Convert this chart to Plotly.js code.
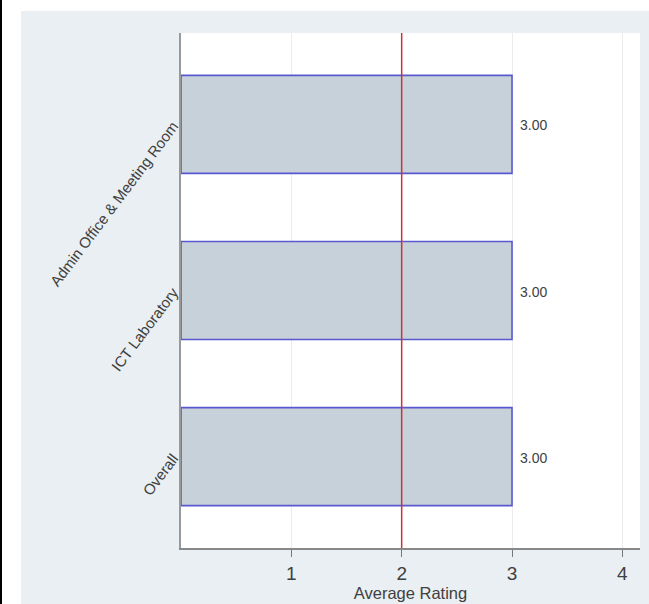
<!DOCTYPE html>
<html>
<head>
<meta charset="utf-8">
<script src="https://cdn.plot.ly/plotly-3.0.1.min.js"></script>
<style>
html,body{margin:0;padding:0;background:#ffffff;}
body{width:649px;height:604px;position:relative;overflow:hidden;}
#edge{position:absolute;left:0;top:0;width:2px;height:604px;background:#000;}
#chart{position:absolute;left:21px;top:11px;width:628px;height:593px;}
</style>
</head>
<body>
<div id="edge"></div>
<div id="chart"></div>
<script>
const categories = ["Overall", "ICT Laboratory", "Admin Office & Meeting Room"];
const ratings = [3.00, 3.00, 3.00];
const valueLabels = ["3.00", "3.00", "3.00"];
const referenceValue = 2;
const xTicks = [1, 2, 3, 4];

const sans = 'Liberation Sans, Arial, sans-serif';

const trace = {
  type: 'bar',
  orientation: 'h',
  y: categories,
  x: ratings,
  width: 0.59,
  marker: {color: '#c7d1d9', line: {color: '#5858d0', width: 1.6}},
  hoverinfo: 'none'
};

const annotations = categories.map((c, i) => ({
  x: ratings[i], y: c, xref: 'x', yref: 'y',
  text: valueLabels[i], showarrow: false,
  xanchor: 'left', yanchor: 'middle', xshift: 6, yshift: -1,
  font: {family: sans, size: 14, color: '#404040'}
}));

const layout = {
  width: 628, height: 593,
  margin: {l: 160, r: 9, t: 22, b: 56},
  paper_bgcolor: '#e9eff2',
  plot_bgcolor: '#ffffff',
  showlegend: false,
  font: {family: sans, color: '#404040'},
  xaxis: {
    range: [0, 4.16],
    tickvals: xTicks,
    ticktext: xTicks.map(String),
    ticks: 'outside', ticklen: 7, tickcolor: '#777777', tickwidth: 1,
    tickfont: {family: sans, size: 19, color: '#404040'},
    showgrid: true, gridcolor: '#ececec', gridwidth: 1,
    zeroline: false,
    showline: true, linecolor: '#888888', linewidth: 2,
    title: {text: 'Average Rating', font: {family: sans, size: 16.5, color: '#404040'}, standoff: 1},
    automargin: false
  },
  yaxis: {
    range: [-0.55, 2.55],
    type: 'category',
    ticks: '', tickangle: -53,
    ticklabelstandoff: 3,
    tickfont: {family: sans, size: 15, color: '#404040'},
    showgrid: false, zeroline: false,
    showline: true, linecolor: '#999999', linewidth: 2,
    automargin: false
  },
  annotations: annotations,
  shapes: [{
    type: 'line', xref: 'x', yref: 'paper',
    x0: referenceValue, x1: referenceValue, y0: 0, y1: 1,
    line: {color: '#cc3333', width: 1.5}
  }]
};

Plotly.newPlot('chart', [trace], layout, {displayModeBar: false, staticPlot: true});
</script>
</body>
</html>
